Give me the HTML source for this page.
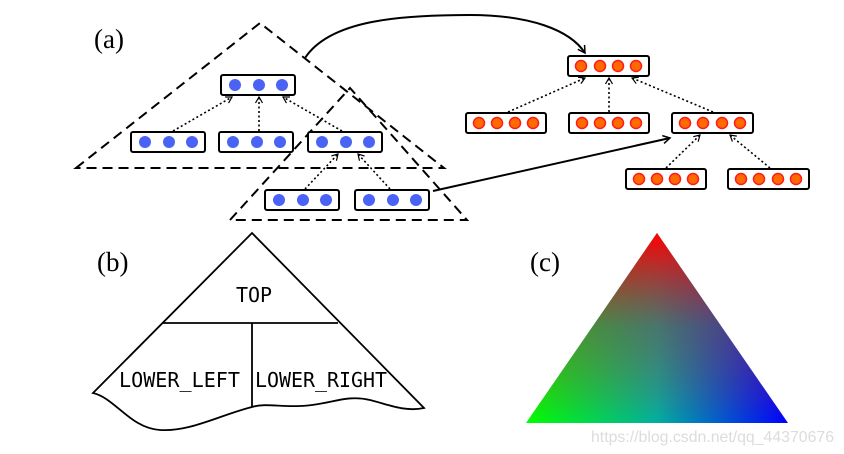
<!DOCTYPE html>
<html><head><meta charset="utf-8"><style>html,body{margin:0;padding:0;background:#fff}svg{display:block}</style></head>
<body>
<svg width="844" height="454" xmlns="http://www.w3.org/2000/svg" font-family="Liberation Serif, serif">
<defs>
<marker id="ah" markerWidth="10" markerHeight="10" refX="8" refY="5" orient="auto" markerUnits="userSpaceOnUse">
<path d="M1,1 L8,5 L1,9" fill="none" stroke="#000" stroke-width="1.5"/></marker>
<marker id="ad" markerWidth="10" markerHeight="10" refX="8" refY="5" orient="auto" markerUnits="userSpaceOnUse">
<path d="M2,1.5 L8,5 L2,8.5" fill="none" stroke="#000" stroke-width="1.2"/></marker>
<linearGradient id="gb" x1="0" y1="0" x2="1" y2="0"><stop offset="0" stop-color="#00ff00"/><stop offset="0.5" stop-color="#00b0a0"/><stop offset="1" stop-color="#0000ff"/></linearGradient>
<linearGradient id="gr" x1="0" y1="0" x2="0" y2="1"><stop offset="0" stop-color="#ff0000" stop-opacity="1"/><stop offset="0.5" stop-color="#a03030" stop-opacity="0.45"/><stop offset="1" stop-color="#ff0000" stop-opacity="0"/></linearGradient>
</defs>
<text x="94" y="48" font-size="27">(a)</text>
<text x="97" y="271" font-size="27">(b)</text>
<text x="530" y="271" font-size="27">(c)</text>
<path d="M76,168 L260,23 L444,168 Z" fill="none" stroke="#000" stroke-width="2" stroke-dasharray="10,6"/>
<path d="M230,220 L350,88 L467,220 Z" fill="none" stroke="#000" stroke-width="2" stroke-dasharray="10,6"/>
<g stroke="#000" stroke-width="1.6" stroke-dasharray="2,2.5" fill="none" marker-end="url(#ad)">
<line x1="173" y1="131" x2="232" y2="97"/>
<line x1="259" y1="131" x2="259" y2="97"/>
<line x1="342" y1="131" x2="283" y2="97"/>
<line x1="305" y1="189" x2="338" y2="154"/>
<line x1="390" y1="189" x2="358" y2="154"/>
<line x1="508" y1="112" x2="585" y2="78"/>
<line x1="609" y1="112" x2="609" y2="78"/>
<line x1="713" y1="112" x2="632" y2="78"/>
<line x1="666" y1="168" x2="700" y2="135"/>
<line x1="770" y1="168" x2="730" y2="135"/>
</g>
<path d="M305,58 C330,20 400,15 470,15 C530,15 570,30 585,53" fill="none" stroke="#000" stroke-width="2" marker-end="url(#ah)"/>
<line x1="433" y1="191" x2="670" y2="138" stroke="#000" stroke-width="2" marker-end="url(#ah)"/>
<g stroke="#000" stroke-width="2" fill="#fff">
<rect x="221" y="75" width="74" height="20" rx="2"/>
<rect x="131" y="132" width="74" height="20" rx="2"/>
<rect x="219" y="132" width="74" height="20" rx="2"/>
<rect x="308" y="132" width="74" height="20" rx="2"/>
<rect x="265" y="190" width="74" height="20" rx="2"/>
<rect x="355" y="190" width="74" height="20" rx="2"/>
</g>
<g fill="#4a63f5">
<circle cx="235" cy="85" r="6"/><circle cx="259" cy="85" r="6"/><circle cx="282" cy="85" r="6"/>
<circle cx="145" cy="142" r="6"/><circle cx="169" cy="142" r="6"/><circle cx="192" cy="142" r="6"/>
<circle cx="233" cy="142" r="6"/><circle cx="257" cy="142" r="6"/><circle cx="280" cy="142" r="6"/>
<circle cx="322" cy="142" r="6"/><circle cx="346" cy="142" r="6"/><circle cx="369" cy="142" r="6"/>
<circle cx="279" cy="200" r="6"/><circle cx="303" cy="200" r="6"/><circle cx="326" cy="200" r="6"/>
<circle cx="369" cy="200" r="6"/><circle cx="393" cy="200" r="6"/><circle cx="416" cy="200" r="6"/>
</g>
<g stroke="#000" stroke-width="2" fill="#fff">
<rect x="568" y="56" width="81" height="20" rx="2"/>
<rect x="466" y="113" width="80" height="20" rx="2"/>
<rect x="569" y="113" width="80" height="20" rx="2"/>
<rect x="672" y="113" width="81" height="20" rx="2"/>
<rect x="626" y="169" width="80" height="20" rx="2"/>
<rect x="728" y="169" width="81" height="20" rx="2"/>
</g>
<g fill="#ff6a00" stroke="#ff1a1a" stroke-width="1.5">
<circle cx="581" cy="66" r="5.5"/><circle cx="600" cy="66" r="5.5"/><circle cx="618" cy="66" r="5.5"/><circle cx="636" cy="66" r="5.5"/>
<circle cx="479" cy="123" r="5.5"/><circle cx="497" cy="123" r="5.5"/><circle cx="515" cy="123" r="5.5"/><circle cx="533" cy="123" r="5.5"/>
<circle cx="582" cy="123" r="5.5"/><circle cx="600" cy="123" r="5.5"/><circle cx="618" cy="123" r="5.5"/><circle cx="636" cy="123" r="5.5"/>
<circle cx="685" cy="123" r="5.5"/><circle cx="703" cy="123" r="5.5"/><circle cx="722" cy="123" r="5.5"/><circle cx="740" cy="123" r="5.5"/>
<circle cx="639" cy="179" r="5.5"/><circle cx="657" cy="179" r="5.5"/><circle cx="675" cy="179" r="5.5"/><circle cx="693" cy="179" r="5.5"/>
<circle cx="741" cy="179" r="5.5"/><circle cx="759" cy="179" r="5.5"/><circle cx="778" cy="179" r="5.5"/><circle cx="796" cy="179" r="5.5"/>
</g>
<path d="M93,393 L252,233 L424,408 C405,412 390,405 370,400 C345,394 330,405 300,406 C280,407 265,403 252,407 C220,415 190,432 160,430 C130,428 115,398 93,393 Z" fill="none" stroke="#000" stroke-width="1.8"/>
<line x1="163" y1="323" x2="338" y2="323" stroke="#000" stroke-width="1.8"/>
<line x1="252" y1="323" x2="252" y2="407" stroke="#000" stroke-width="1.8"/>
<g font-family="DejaVu Sans Mono, Liberation Mono, monospace" font-size="20" fill="#000">
<text x="254" y="302" text-anchor="middle">TOP</text>
<text x="119" y="387" textLength="121" lengthAdjust="spacingAndGlyphs">LOWER_LEFT</text>
<text x="255" y="387" textLength="132" lengthAdjust="spacingAndGlyphs">LOWER_RIGHT</text>
</g>
<path d="M657,233 L788,423 L526,423 Z" fill="url(#gb)"/>
<path d="M657,233 L788,423 L526,423 Z" fill="url(#gr)"/>
<text x="591" y="442" font-family="Liberation Sans, sans-serif" font-size="16" fill="#dcdcdc" textLength="243" lengthAdjust="spacingAndGlyphs">https://blog.csdn.net/qq_44370676</text>
</svg>
</body></html>
